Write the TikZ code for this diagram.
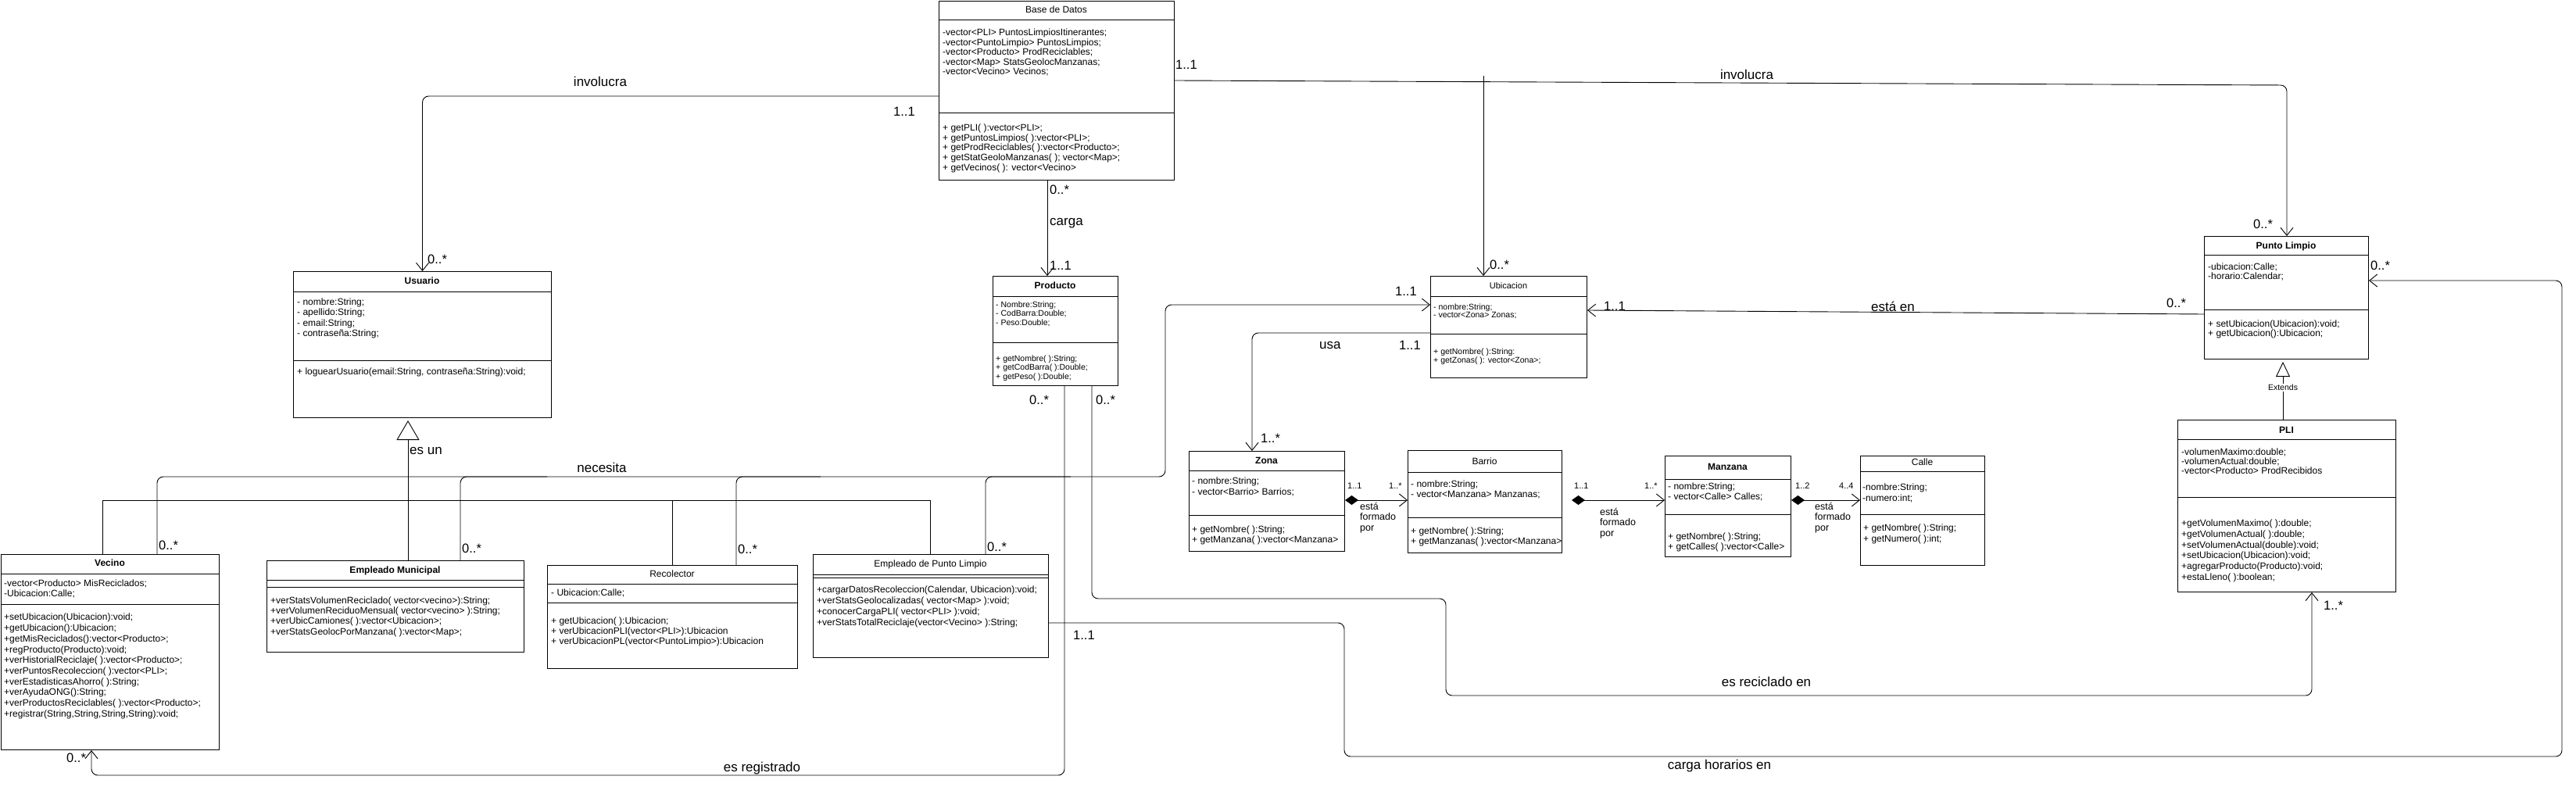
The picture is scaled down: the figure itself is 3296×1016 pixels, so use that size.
\documentclass[tikz,border=0pt]{standalone}
\usepackage{fontspec}
\setmainfont{Liberation Sans}
\usetikzlibrary{arrows.meta}
\begin{document}
\begin{tikzpicture}[x=1pt,y=-1pt]
\tikzset{
  cls/.style={draw=black, line width=1pt, inner sep=0pt, anchor=north west},
  sepl/.style={line width=1pt},
  ttb/.style={font=\fontsize{12}{14}\selectfont\bfseries, inner sep=0pt, text height=8.6pt, text depth=2.5pt},
  ttn/.style={font=\fontsize{12}{14}\selectfont, inner sep=0pt, text height=8.6pt, text depth=2.5pt},
  body/.style={align=left, anchor=north west, inner sep=0pt, font={\fontsize{12}{#1}\selectfont\lineskiplimit=-20pt}},
  body/.default=13.5,
  sbody/.style={align=left, anchor=north west, inner sep=0pt, font={\fontsize{10.5}{#1}\selectfont\lineskiplimit=-20pt}},
  sbody/.default=11,
  conn/.style={line width=0.9pt, rounded corners=8pt},
  assoc/.style={conn, -{Straight Barb[length=10pt,width=16pt,line width=0.9pt]}},
  comp/.style={line width=0.9pt, {Diamond[length=17pt,width=12pt]}-{Straight Barb[length=10pt,width=16pt,line width=0.9pt]}},
  genl/.style={line width=0.9pt},
  lbl/.style={font=\fontsize{17}{19}\selectfont, inner sep=0pt},
  mult/.style={font=\fontsize{16.5}{18}\selectfont, inner sep=0pt, anchor=west},
  smult/.style={font=\fontsize{11}{13}\selectfont, inner sep=0pt, anchor=west},
  note/.style={font={\fontsize{12.5}{13.5}\selectfont\lineskiplimit=-20pt}, align=left, inner sep=0pt, anchor=north west},
}
\fill[white] (0,0) rectangle (3296,1016);
\useasboundingbox (0,0) rectangle (3296,1016);

% ---------------- Base de Datos
\node[cls, minimum width=301pt, minimum height=229pt] (bd) at (1201,1) {};
\node[ttn] (bdT) at (1351.5,13.5) {Base de Datos};
\draw[sepl] (bd.west |- 0,26) -- (bd.east |- 0,26);
\draw[sepl] (bd.west |- 0,145) -- (bd.east |- 0,145);
\node[body=12.6] (bdA) at (1206,36.7) {-vector<PLI> PuntosLimpiosItinerantes;\\-vector<PuntoLimpio> PuntosLimpios;\\-vector<Producto> ProdReciclables;\\-vector<Map> StatsGeolocManzanas;\\-vector<Vecino> Vecinos;};
\node[body=12.9] (bdM) at (1206,158.3) {+ getPLI( ):vector<PLI>;\\+ getPuntosLimpios( ):vector<PLI>;\\+ getProdReciclables( ):vector<Producto>;\\+ getStatGeoloManzanas( ); vector<Map>;\\+ getVecinos( ): vector<Vecino>};

% ---------------- Usuario
\node[cls, minimum width=330pt, minimum height=187pt] (usu) at (375,347) {};
\node[ttb] (usuT) at (540,360) {Usuario};
\draw[sepl] (usu.west |- 0,373) -- (usu.east |- 0,373);
\draw[sepl] (usu.west |- 0,461) -- (usu.east |- 0,461);
\node[body=13.3] (usuA) at (380,381.7) {- nombre:String;\\- apellido:String;\\- email:String;\\- contraseña:String;};
\node[body] (usuM) at (380,470.7) {+ loguearUsuario(email:String, contraseña:String):void;};

% ---------------- Vecino
\node[cls, minimum width=279pt, minimum height=250pt] (vec) at (1,709) {};
\node[ttb] (vecT) at (140.5,721.7) {Vecino};
\draw[sepl] (vec.west |- 0,734) -- (vec.east |- 0,734);
\draw[sepl] (vec.west |- 0,773) -- (vec.east |- 0,773);
\node[body=13.3] (vecA) at (5,741.7) {-vector<Producto> MisReciclados;\\-Ubicacion:Calle;};
\node[body=13.7] (vecM) at (5,785) {+setUbicacion(Ubicacion):void;\\+getUbicacion():Ubicacion;\\+getMisReciclados():vector<Producto>;\\+regProducto(Producto):void;\\+verHistorialReciclaje( ):vector<Producto>;\\+verPuntosRecoleccion( ):vector<PLI>;\\+verEstadisticasAhorro( ):String;\\+verAyudaONG():String;\\+verProductosReciclables( ):vector<Producto>;\\+registrar(String,String,String,String):void;};

% ---------------- Empleado Municipal
\node[cls, minimum width=329pt, minimum height=117pt] (em) at (341,717) {};
\node[ttb] (emT) at (505.5,730) {Empleado Municipal};
\draw[sepl] (em.west |- 0,742) -- (em.east |- 0,742);
\draw[sepl] (em.west |- 0,751) -- (em.east |- 0,751);
\node[body=13.3] (emM) at (346,763.3) {+verStatsVolumenReciclado( vector<vecino>):String;\\+verVolumenReciduoMensual( vector<vecino> ):String;\\+verUbicCamiones( ):vector<Ubicacion>;\\+verStatsGeolocPorManzana( ):vector<Map>;};

% ---------------- Recolector
\node[cls, minimum width=320pt, minimum height=132pt] (rec) at (700,723) {};
\node[ttn] (recT) at (860,735) {Recolector};
\draw[sepl] (rec.west |- 0,747) -- (rec.east |- 0,747);
\draw[sepl] (rec.west |- 0,771) -- (rec.east |- 0,771);
\node[body] (recA) at (705,754) {- Ubicacion:Calle;};
\node[body=13] (recM) at (705,790) {+ getUbicacion( ):Ubicacion;\\+ verUbicacionPLI(vector<PLI>):Ubicacion\\+ verUbicacionPL(vector<PuntoLimpio>):Ubicacion};

% ---------------- Empleado de Punto Limpio
\node[cls, minimum width=301pt, minimum height=132pt] (epl) at (1040,709) {};
\node[ttn] (eplT) at (1190.5,722) {Empleado de Punto Limpio};
\draw[sepl] (epl.west |- 0,735) -- (epl.east |- 0,735);
\draw[sepl] (epl.west |- 0,739) -- (epl.east |- 0,739);
\node[body=13.9] (eplM) at (1045,750) {+cargarDatosRecoleccion(Calendar, Ubicacion):void;\\+verStatsGeolocalizadas( vector<Map> ):void;\\+conocerCargaPLI( vector<PLI> ):void;\\+verStatsTotalReciclaje(vector<Vecino> ):String;};

% ---------------- Producto
\node[cls, minimum width=160pt, minimum height=140pt] (prod) at (1270,353) {};
\node[ttb] (prodT) at (1350,366.7) {Producto};
\draw[sepl] (prod.west |- 0,379) -- (prod.east |- 0,379);
\draw[sepl] (prod.west |- 0,438) -- (prod.east |- 0,438);
\node[sbody=11.3] (prodA) at (1274,385.6) {- Nombre:String;\\- CodBarra:Double;\\- Peso:Double;};
\node[sbody=11.5] (prodM) at (1274,454.6) {+ getNombre( ):String;\\+ getCodBarra( ):Double;\\+ getPeso( ):Double;};

% ---------------- Ubicacion
\node[cls, minimum width=200pt, minimum height=130pt] (ubi) at (1830,353) {};
\node[ttn, font=\fontsize{11}{13}\selectfont] (ubiT) at (1930,366.7) {Ubicacion};
\draw[sepl] (ubi.west |- 0,379) -- (ubi.east |- 0,379);
\draw[sepl] (ubi.west |- 0,427) -- (ubi.east |- 0,427);
\node[sbody=10.7] (ubiA) at (1834,388.3) {- nombre:String;\\- vector<Zona> Zonas;};
\node[sbody=10.7] (ubiM) at (1834,445.6) {+ getNombre( ):String:\\+ getZonas( ): vector<Zona>;};

% ---------------- Zona
\node[cls, minimum width=199pt, minimum height=128pt] (zona) at (1521,577) {};
\node[ttb] (zonaT) at (1620.5,590) {Zona};
\draw[sepl] (zona.west |- 0,602) -- (zona.east |- 0,602);
\draw[sepl] (zona.west |- 0,659) -- (zona.east |- 0,659);
\node[body=14] (zonaA) at (1525,611) {- nombre:String;\\- vector<Barrio> Barrios;};
\node[body=13.7] (zonaM) at (1525,672.3) {+ getNombre( ):String;\\+ getManzana( ):vector<Manzana>};

% ---------------- Barrio
\node[cls, minimum width=197pt, minimum height=131pt] (bar) at (1801,576) {};
\node[ttn] (barT) at (1899.5,591.7) {Barrio};
\draw[sepl] (bar.west |- 0,604) -- (bar.east |- 0,604);
\draw[sepl] (bar.west |- 0,662) -- (bar.east |- 0,662);
\node[body=13.4] (barA) at (1805,614.3) {- nombre:String;\\- vector<Manzana> Manzanas;};
\node[body=13.4] (barM) at (1805,674.3) {+ getNombre( ):String;\\+ getManzanas( ):vector<Manzana>};

% ---------------- Manzana
\node[cls, minimum width=161pt, minimum height=129pt] (man) at (2130,583) {};
\node[ttb] (manT) at (2210.5,598) {Manzana};
\draw[sepl] (man.west |- 0,613) -- (man.east |- 0,613);
\draw[sepl] (man.west |- 0,658) -- (man.east |- 0,658);
\node[body=13.3] (manA) at (2134,617.7) {- nombre:String;\\- vector<Calle> Calles;};
\node[body=13.3] (manM) at (2134,681.7) {+ getNombre( ):String;\\+ getCalles( ):vector<Calle>};

% ---------------- Calle
\node[cls, minimum width=159pt, minimum height=140pt] (cal) at (2380,583) {};
\node[ttn] (calT) at (2459.5,592.7) {Calle};
\draw[sepl] (cal.west |- 0,603) -- (cal.east |- 0,603);
\draw[sepl] (cal.west |- 0,658) -- (cal.east |- 0,658);
\node[body=13.3] (calA) at (2383,619) {-nombre:String;\\-numero:int;};
\node[body=13.3] (calM) at (2384,671) {+ getNombre( ):String;\\+ getNumero( ):int;};

% ---------------- Punto Limpio
\node[cls, minimum width=210pt, minimum height=157pt] (pl) at (2820,302) {};
\node[ttb] (plT) at (2925,315) {Punto Limpio};
\draw[sepl] (pl.west |- 0,327) -- (pl.east |- 0,327);
\draw[sepl] (pl.west |- 0,396) -- (pl.east |- 0,396);
\node[body=11.5] (plA) at (2825,336.7) {-ubicacion:Calle;\\-horario:Calendar;};
\node[body=11.7] (plM) at (2825,410) {+ setUbicacion(Ubicacion):void;\\+ getUbicacion():Ubicacion;};

% ---------------- PLI
\node[cls, minimum width=279pt, minimum height=220pt] (pli) at (2786,537) {};
\node[ttb] (pliT) at (2925.5,551.7) {PLI};
\draw[sepl] (pli.west |- 0,562) -- (pli.east |- 0,562);
\draw[sepl] (pli.west |- 0,636) -- (pli.east |- 0,636);
\node[body=12.3] (pliA) at (2791,573.3) {-volumenMaximo:double;\\-volumenActual:double;\\-vector<Producto> ProdRecibidos};
\node[body=13.7] (pliM) at (2791,665) {+getVolumenMaximo( ):double;\\+getVolumenActual( ):double;\\+setVolumenActual(double):void;\\+setUbicacion(Ubicacion):void;\\+agregarProducto(Producto):void;\\+estaLleno( ):boolean;};

% ================= connectors
% involucra (Usuario)
\draw[assoc] (bd.west |- 0,123) -| (usu.north);
\node[lbl] (lInv1) at (768,104) {involucra};
\node[mult] (mInv1a) at (1143,143) {1..1};
\node[mult] (mInv1b) at (547,332) {0..*};

% involucra (Punto Limpio / Ubicacion)
\draw[assoc] (bd.east |- 0,103) -- (2926,109) -- (pl.north -| 2926,0);
\draw[assoc] (1898,97) -- (ubi.north -| 1898,0);
\node[lbl] (lInv2) at (2235,95) {involucra};
\node[mult] (mInv2a) at (1504,83) {1..1};
\node[mult] (mInv2b) at (1906,339) {0..*};
\node[mult] (mInv2c) at (2883,287) {0..*};

% carga
\draw[assoc] (bd.south -| 1340,0) -- (prod.north -| 1340,0);
\node[mult] (mCar1) at (1343,243) {0..*};
\node[mult, font=\fontsize{17}{19}\selectfont] (lCar) at (1343,286) {carga};
\node[mult] (mCar2) at (1343,340) {1..1};

% es un (generalisation to Usuario)
\draw[genl] (vec.north -| 131,0) -- (131,640) -| (epl.north -| 1190,0);
\draw[genl] (rec.north -| 860,0) -- (860,640);
\draw[genl, -{Triangle[open,length=25pt,width=29pt,line width=0.9pt]}] (em.north -| 522,0) -- ([yshift=-3pt]usu.south -| 522,0);
\node[mult, font=\fontsize{17}{19}\selectfont] (lEsun) at (524,577) {es un};

% necesita
\draw[assoc] (vec.north -| 201,0) |- (1491,610) |- (ubi.west |- 0,390);
\draw[conn] (em.north -| 589,0) |- (700,610);
\draw[conn] (rec.north -| 942,0) |- (1050,610);
\draw[conn] (epl.north -| 1261,0) |- (1370,610);
\node[lbl] (lNec) at (770,598) {necesita};
\node[mult] (mNec1) at (203,698) {0..*};
\node[mult] (mNec2) at (591,702) {0..*};
\node[mult] (mNec3) at (944,703) {0..*};
\node[mult] (mNec4) at (1263,700) {0..*};
\node[mult] (mNec5) at (1785,373) {1..1};

% usa
\draw[assoc] (ubi.west |- 0,426) -| (zona.north -| 1602,0);
\node[mult, font=\fontsize{17}{19}\selectfont] (lUsa) at (1688,442) {usa};
\node[mult] (mUsa1) at (1790,442) {1..1};
\node[mult] (mUsa2) at (1613,561) {1..*};

% compositions
\draw[comp] (zona.east |- 0,640) -- (bar.west |- 0,640);
\draw[comp] ([xshift=12pt]bar.east |- 0,640) -- (man.west |- 0,640);
\draw[comp] (man.east |- 0,640) -- (cal.west |- 0,640);
\node[smult] (mC1a) at (1724,622) {1..1};
\node[smult] (mC1b) at (1777,622) {1..*};
\node[smult] (mC2a) at (2014,622) {1..1};
\node[smult] (mC2b) at (2104,622) {1..*};
\node[smult] (mC3a) at (2297,622) {1..2};
\node[smult] (mC3b) at (2353,622) {4..4};
\node[note] (nC1) at (1740,643) {está\\formado\\por};
\node[note] (nC2) at (2047,650) {está\\formado\\por};
\node[note] (nC3) at (2322,643) {está\\formado\\por};

% está en
\draw[assoc] (pl.west |- 0,402) -- (ubi.east |- 0,397);
\node[lbl] (lEsta) at (2422,392) {está en};
\node[mult] (mEst1) at (2052,392) {1..1};
\node[mult] (mEst2) at (2772,388) {0..*};

% Extends
\draw[genl, -{Triangle[open,length=19pt,width=18pt,line width=0.9pt]}] (pli.north -| 2921,0) -- ([yshift=-3pt]pl.south -| 2921,0);
\node[font=\fontsize{10.5}{12}\selectfont, fill=white, inner sep=1.5pt] (lExt) at (2921,496) {Extends};

% es reciclado en
\draw[assoc] (prod.south -| 1397,0) -- (1397,766) -- (1850,766) -- (1850,890) -- (2958,890) -- (pli.south -| 2958,0);
\node[lbl] (lRec) at (2260,872) {es reciclado en};
\node[mult] (mRec1) at (1402,512) {0..*};
\node[mult] (mRec2) at (2973,775) {1..*};

% es registrado
\draw[assoc] (prod.south -| 1362,0) -- (1362,992) -- (117,992) -- (vec.south -| 117,0);
\node[lbl] (lReg) at (975,983) {es registrado};
\node[mult] (mReg1) at (1317,512) {0..*};
\node[mult] (mReg2) at (85,970) {0..*};

% carga horarios en
\draw[assoc] (epl.east |- 0,797) -- (1720,797) -- (1720,968) -- (3278,968) -- (3278,359) -- (pl.east |- 0,359);
\node[lbl] (lHor) at (2200,980) {carga horarios en};
\node[mult] (mHor1) at (1373,813) {1..1};
\node[mult] (mHor2) at (3033,340) {0..*};
\end{tikzpicture}
\end{document}
